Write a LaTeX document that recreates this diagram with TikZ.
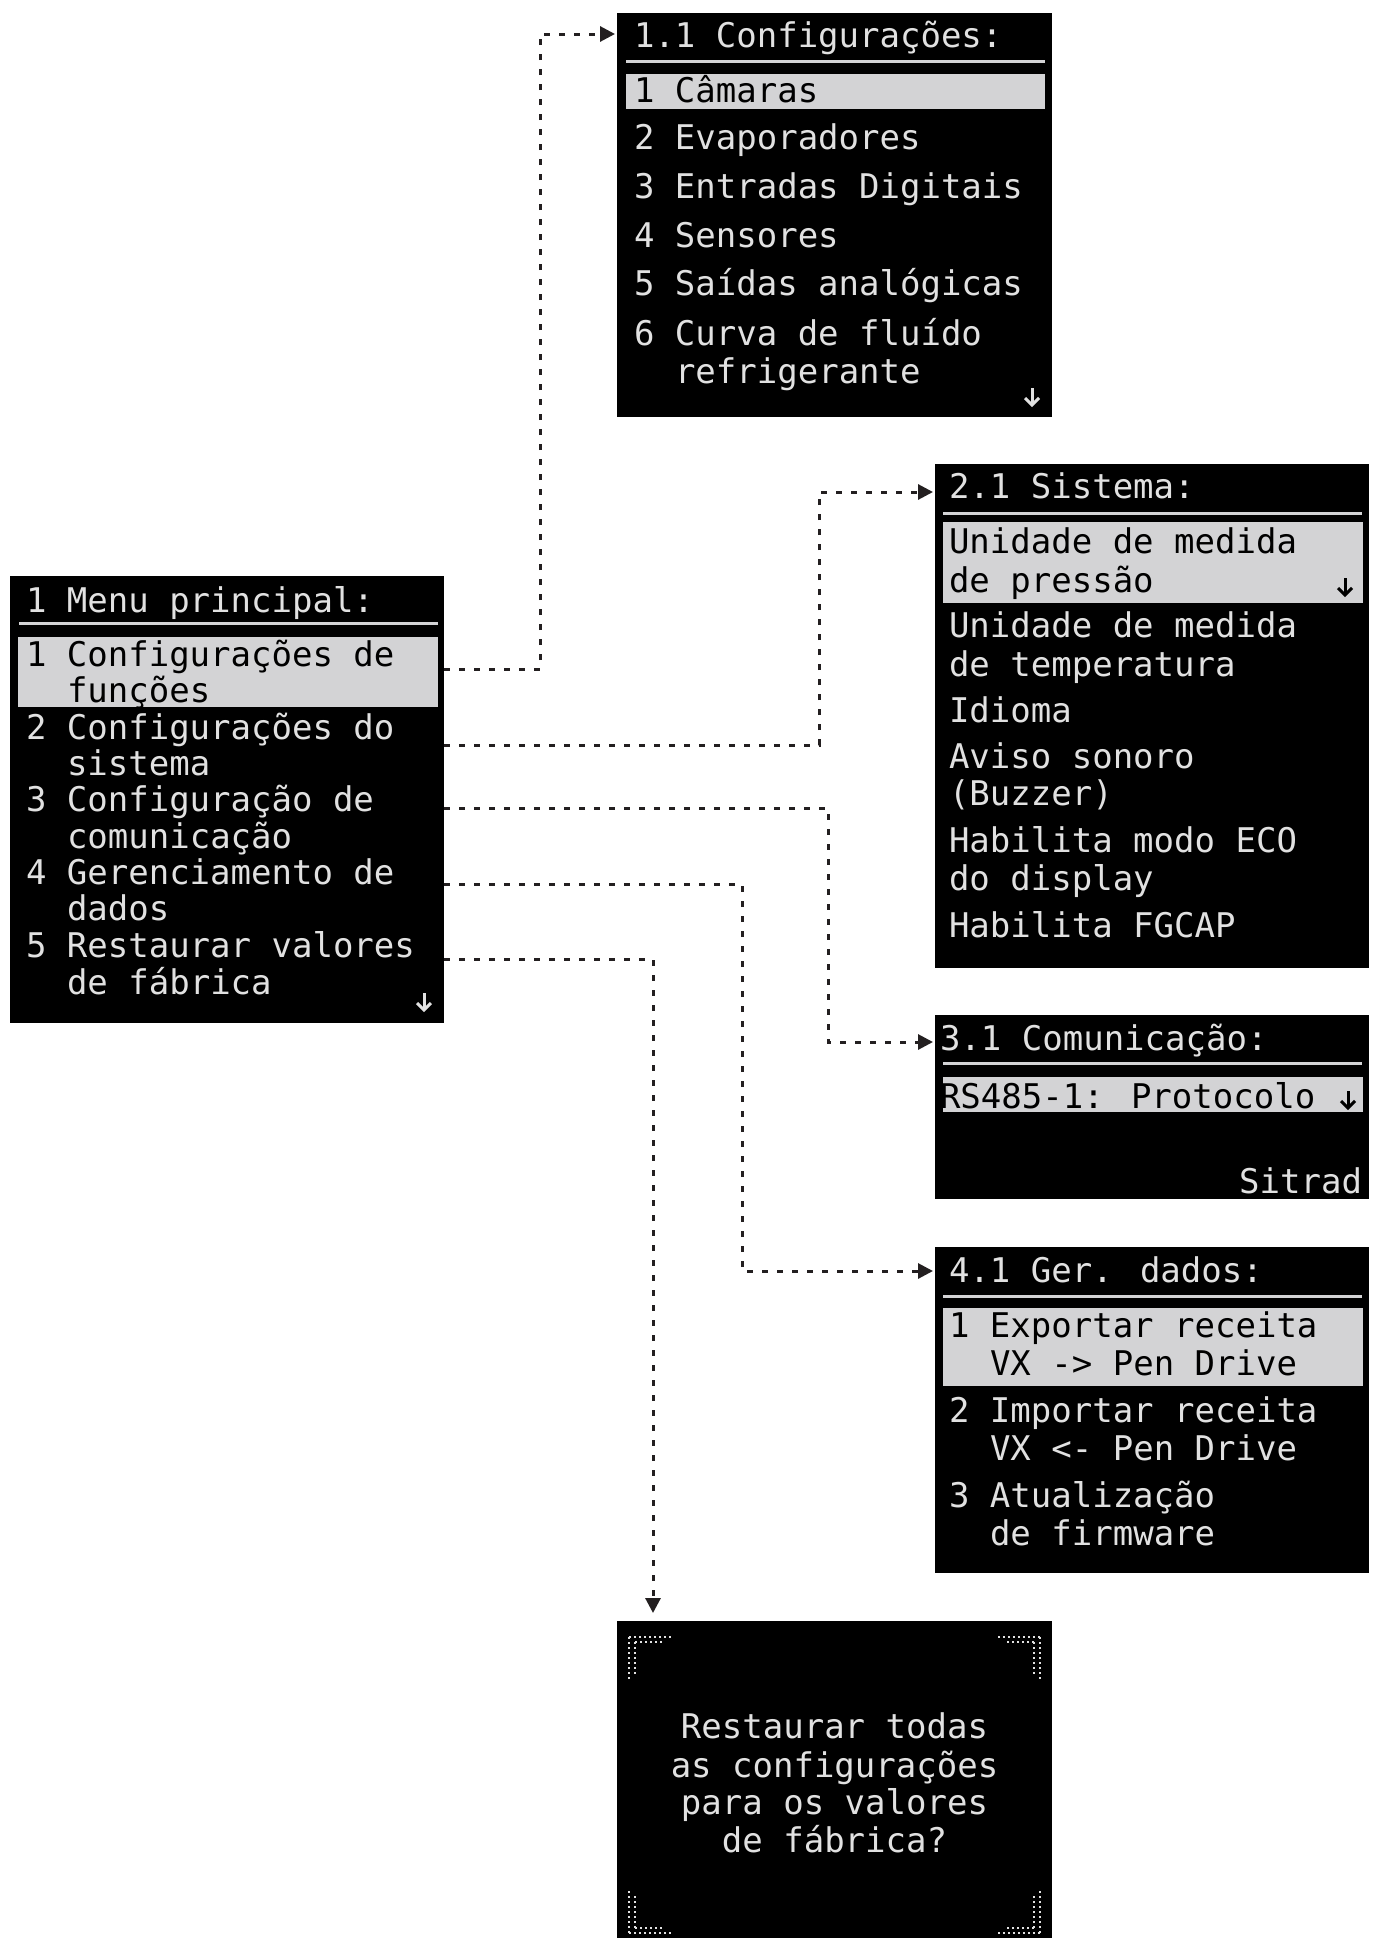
\documentclass[tikz,border=0pt]{standalone}
\usepackage{fontspec}
\usetikzlibrary{arrows.meta,calc}
\newfontfamily\lcdfam{DejaVu Sans Mono}
\newcommand{\lcdfont}{\lcdfam\fontsize{34pt}{36pt}\selectfont}
\definecolor{lcdfg}{RGB}{225,225,225}
\definecolor{lcdhl}{RGB}{211,211,213}
\definecolor{conncol}{RGB}{35,31,32}
\tikzset{
  screen/.style={fill=black, draw=none, inner sep=0pt, outer sep=0pt, anchor=north west},
  lcd/.style={font=\lcdfont, text=lcdfg, inner sep=0pt, outer sep=0pt, anchor=base west},
  lcdsel/.style={lcd, text=black},
  hlbar/.style={fill=lcdhl},
  sepline/.style={draw=lcdhl, line width=3pt},
  conn/.style={draw=conncol, line width=3pt, dash pattern=on 6pt off 9pt, shorten >=2pt,
    -{Triangle[length=15pt,width=15pt]}},
  cornerdots/.style={draw=lcdfg, line width=2pt, dash pattern=on 2pt off 3pt},
  dnarrow/.pic={
    \draw[line width=3pt] (0,-9) -- (0,8);
    \draw[line width=3pt] (-7,1) -- (0,8) -- (7,1);
  }
}
\begin{document}
\begin{tikzpicture}[x=1pt,y=-1pt]
\useasboundingbox (0,0) rectangle (1375,1938);
\fill[white] (0,0) rectangle (1375,1938);

% ---------- screens ----------
\node[screen, minimum width=434pt, minimum height=447pt] (main) at (10,576) {};
\node[screen, minimum width=435pt, minimum height=404pt] (b11) at (617,13) {};
\node[screen, minimum width=434pt, minimum height=504pt] (b21) at (935,464) {};
\node[screen, minimum width=434pt, minimum height=184pt] (b31) at (935,1015) {};
\node[screen, minimum width=434pt, minimum height=326pt] (b41) at (935,1247) {};
\node[screen, minimum width=435pt, minimum height=317pt] (b5) at (617,1621) {};

% ---------- separators and highlight bars ----------
\draw[sepline] (19,623) -- (438,623);
\fill[hlbar] (18,637) rectangle (438,707);

\draw[sepline] (626,61) -- (1045,61);
\fill[hlbar] (626,74) rectangle (1045,109);

\draw[sepline] (943,513) -- (1362,513);
\fill[hlbar] (943,522) rectangle (1363,603);

\draw[sepline] (943,1063) -- (1362,1063);
\fill[hlbar] (943,1077) rectangle (1363,1112);

\draw[sepline] (943,1296) -- (1362,1296);
\fill[hlbar] (943,1308) rectangle (1363,1386);

% ---------- main menu ----------
\node[lcd] (m0) at (26,612) {1 Menu principal:};
\node[lcdsel] (m1a) at (26,666) {1 Configurações de};
\node[lcdsel] (m1b) at (67,702) {funções};
\node[lcd] (m2a) at (26,739) {2 Configurações do};
\node[lcd] (m2b) at (67,775) {sistema};
\node[lcd] (m3a) at (26,811) {3 Configuração de};
\node[lcd] (m3b) at (67,848) {comunicação};
\node[lcd] (m4a) at (26,884) {4 Gerenciamento de};
\node[lcd] (m4b) at (67,920) {dados};
\node[lcd] (m5a) at (26,957) {5 Restaurar valores};
\node[lcd] (m5b) at (67,994) {de fábrica};
\pic[color=lcdfg] at (424,1002) {dnarrow};

% ---------- 1.1 ----------
\node[lcd] (c0) at (634,47) {1.1 Configurações:};
\node[lcdsel] (c1) at (634,102) {1 Câmaras};
\node[lcd] (c2) at (634,149) {2 Evaporadores};
\node[lcd] (c3) at (634,198) {3 Entradas Digitais};
\node[lcd] (c4) at (634,247) {4 Sensores};
\node[lcd] (c5) at (634,295) {5 Saídas analógicas};
\node[lcd] (c6a) at (634,345) {6 Curva de fluído};
\node[lcd] (c6b) at (675,383) {refrigerante};
\pic[color=lcdfg] at (1032,397) {dnarrow};

% ---------- 2.1 ----------
\node[lcd] (s0) at (949,498) {2.1 Sistema:};
\node[lcdsel] (s1a) at (949,553) {Unidade de medida};
\node[lcdsel] (s1b) at (949,592) {de pressão};
\pic[color=black] at (1345,587) {dnarrow};
\node[lcd] (s2a) at (949,637) {Unidade de medida};
\node[lcd] (s2b) at (949,676) {de temperatura};
\node[lcd] (s3) at (949,722) {Idioma};
\node[lcd] (s4a) at (949,768) {Aviso sonoro};
\node[lcd] (s4b) at (949,805) {(Buzzer)};
\node[lcd] (s5a) at (949,852) {Habilita modo ECO};
\node[lcd] (s5b) at (949,890) {do display};
\node[lcd] (s6) at (949,937) {Habilita FGCAP};

% ---------- 3.1 ----------
\node[lcd] (r0) at (940,1050) {3.1 Comunicação:};
\node[lcdsel] (r1) at (940,1108) {RS485-1: Protocolo};
\pic[color=black] at (1348,1100) {dnarrow};
\node[lcd, anchor=base east] (r2) at (1362,1193) {Sitrad};

% ---------- 4.1 ----------
\node[lcd] (g0) at (949,1282) {4.1 Ger. dados:};
\node[lcdsel] (g1a) at (949,1337) {1 Exportar receita};
\node[lcdsel] (g1b) at (990,1375) {VX -> Pen Drive};
\node[lcd] (g2a) at (949,1422) {2 Importar receita};
\node[lcd] (g2b) at (990,1460) {VX <- Pen Drive};
\node[lcd] (g3a) at (949,1507) {3 Atualização};
\node[lcd] (g3b) at (990,1545) {de firmware};

% ---------- restore dialog ----------
\node[lcd, anchor=base] (q1) at (834.5,1738) {Restaurar todas};
\node[lcd, anchor=base] (q2) at (834.5,1777) {as configurações};
\node[lcd, anchor=base] (q3) at (834.5,1814) {para os valores};
\node[lcd, anchor=base] (q4) at (834.5,1852) {de fábrica?};
% corner brackets
\draw[cornerdots] (629,1637) -- (672,1637);
\draw[cornerdots] (629,1637) -- (629,1681);
\draw[cornerdots] (635,1642) -- (664,1642);
\draw[cornerdots] (635,1642) -- (635,1675);
\draw[cornerdots] (1040,1637) -- (997,1637);
\draw[cornerdots] (1040,1637) -- (1040,1681);
\draw[cornerdots] (1034,1642) -- (1005,1642);
\draw[cornerdots] (1034,1642) -- (1034,1675);
\draw[cornerdots] (629,1933) -- (672,1933);
\draw[cornerdots] (629,1933) -- (629,1889);
\draw[cornerdots] (635,1928) -- (664,1928);
\draw[cornerdots] (635,1928) -- (635,1895);
\draw[cornerdots] (1040,1933) -- (997,1933);
\draw[cornerdots] (1040,1933) -- (1040,1889);
\draw[cornerdots] (1034,1928) -- (1005,1928);
\draw[cornerdots] (1034,1928) -- (1034,1895);

% ---------- connectors ----------
\coordinate (y1) at (0,669);   \coordinate (k1) at (540,34);
\coordinate (y2) at (0,745);   \coordinate (k2) at (819,492);
\coordinate (y3) at (0,808);   \coordinate (k3) at (828,1042);
\coordinate (y4) at (0,884);   \coordinate (k4) at (742,1271);
\coordinate (y5) at (0,959);   \coordinate (k5) at (653,0);

\draw[conn] (main.east |- y1) -| (k1) -- (b11.west |- k1);
\draw[conn] (main.east |- y2) -| (k2) -- (b21.west |- k2);
\draw[conn] (main.east |- y3) -| (k3) -- (b31.west |- k3);
\draw[conn] (main.east |- y4) -| (k4) -- (b41.west |- k4);
\draw[conn, shorten >=8pt] (main.east |- y5) -| (b5.north -| k5);
\end{tikzpicture}
\end{document}
